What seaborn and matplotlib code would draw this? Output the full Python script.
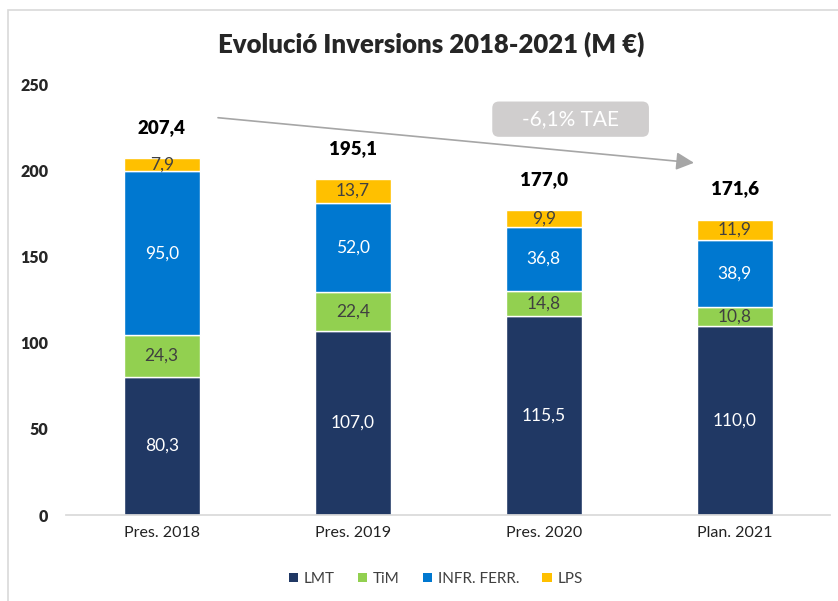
import numpy as np
import pandas as pd
import seaborn as sns
import matplotlib.pyplot as plt
from matplotlib.patches import Patch, Rectangle, FancyBboxPatch

categories = ['Pres. 2018', 'Pres. 2019', 'Pres. 2020', 'Plan. 2021']
series = ['LMT', 'TiM', 'INFR. FERR.', 'LPS']
lmt = [80.3, 107.0, 115.5, 110.0]
tim = [24.3, 22.4, 14.8, 10.8]
infr = [95.0, 52.0, 36.8, 38.9]
lps = [7.9, 13.7, 9.9, 11.9]
totals = [207.4, 195.1, 177.0, 171.6]
cagr_label = '-6,1% TAE'

colors = ['#203864', '#92D050', '#0078D0', '#FFC000']
text_colors = ['white', '#404040', 'white', '#404040']

sns.set_theme(style='white')
plt.rcParams['font.family'] = ['Lato', 'DejaVu Sans']

fig = plt.figure(figsize=(8.38, 6.01), dpi=100)
ax = fig.add_axes([0.079, 0.143, 0.912, 0.716])

df = pd.DataFrame({'cat': categories, 'LMT': lmt, 'TiM': tim,
                   'INFR. FERR.': infr, 'LPS': lps})

bottom = np.zeros(len(categories))
for name, col, tcol in zip(series, colors, text_colors):
    vals = df[name].to_numpy()
    sns.barplot(data=df, x='cat', y=name, color=col, saturation=1,
                width=0.4, bottom=bottom, edgecolor='white', linewidth=1,
                ax=ax)
    for i, v in enumerate(vals):
        ax.text(i, bottom[i] + v / 2, f'{v:.1f}'.replace('.', ','),
                ha='center', va='center', color=tcol, fontsize=12.5)
    bottom = bottom + vals

for i, t in enumerate(totals):
    ax.annotate(f'{t:.1f}'.replace('.', ','), (i, t), xytext=(0, 16),
                textcoords='offset points', ha='center', va='bottom',
                fontsize=13.5, fontweight='heavy', color='black')

ax.set_ylim(0, 250)
ax.set_xlim(-0.5, 3.5)
ax.set_yticks(range(0, 251, 50))
ax.set_xlabel('')
ax.set_ylabel('')
for s in ['top', 'right', 'left']:
    ax.spines[s].set_visible(False)
ax.spines['bottom'].set_color('#D9D9D9')
ax.tick_params(axis='y', length=0, pad=13, labelsize=11.5)
ax.tick_params(axis='x', length=0, pad=8, labelsize=11.5, labelcolor='#222222')
for lbl in ax.get_yticklabels():
    lbl.set_fontweight('heavy')

# trend arrow
ax.annotate('', xy=(2.8, 204.5), xytext=(0.28, 231),
            arrowprops=dict(arrowstyle='-|>,head_length=0.9,head_width=0.45',
                            color='#A6A6A6', lw=1.2))
box_w, box_h = 0.82, 20.5
box_x, box_y = 2.14, 230
ax.add_patch(FancyBboxPatch((box_x - box_w / 2, box_y - box_h / 2), box_w, box_h,
                            boxstyle='round,pad=0,rounding_size=0.035',
                            mutation_aspect=110, facecolor='#D0CECE',
                            edgecolor='none', zorder=3, clip_on=False))
ax.text(box_x, box_y, cagr_label, ha='center', va='center', color='white',
        fontsize=15, zorder=4)

fig.suptitle('Evolució Inversions 2018-2021 (M €)', x=0.515, y=0.947,
             fontsize=18.5, fontweight='heavy')

handles = [Patch(facecolor=c, edgecolor='none') for c in colors]
fig.legend(handles, series, loc='center', bbox_to_anchor=(0.52, 0.037),
           ncol=4, frameon=False, fontsize=11, handlelength=0.6,
           handleheight=0.6, handletextpad=0.4, columnspacing=1.5,
           labelcolor='#404040')

fig.patches.append(Rectangle((8 / 838, -0.1), 1.2, 1 - 10 / 601 + 0.1,
                             transform=fig.transFigure, fill=False,
                             edgecolor='#D9D9D9', lw=1.2, zorder=-1))

fig.savefig('out.png', dpi=100)
